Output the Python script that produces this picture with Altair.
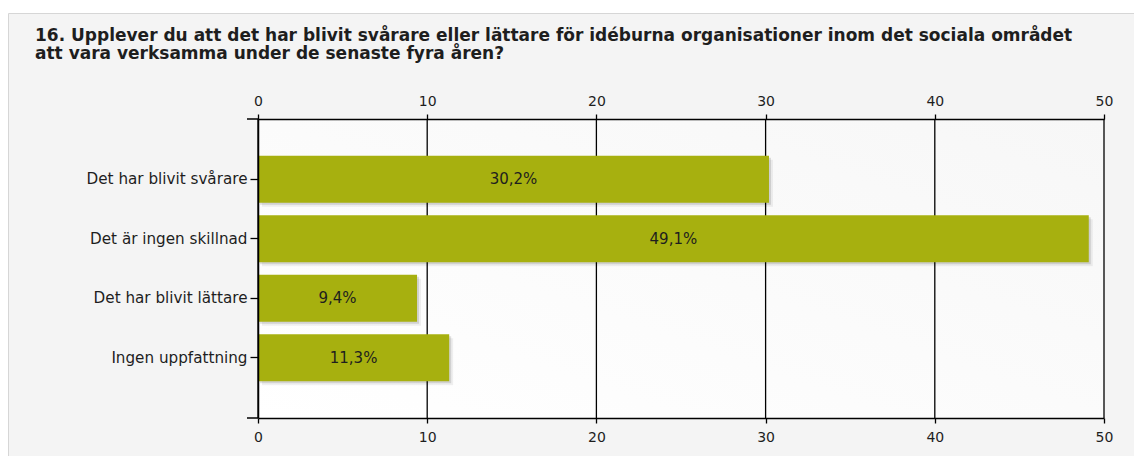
import altair as alt
import pandas as pd

categories = ["Det har blivit svårare", "Det är ingen skillnad", "Det har blivit lättare", "Ingen uppfattning"]
values = [30.2, 49.1, 9.4, 11.3]
labels = ["30,2%", "49,1%", "9,4%", "11,3%"]
ticks = [0, 10, 20, 30, 40, 50]
title_lines = [
    "16. Upplever du att det har blivit svårare eller lättare för idéburna organisationer inom det sociala området",
    "att vara verksamma under de senaste fyra åren?",
]

df = pd.DataFrame({"cat": categories, "val": values, "lab": labels})
tick_df = pd.DataFrame({"t": ticks})

W, H = 846, 299
FONT = "DejaVu Sans"
INK = "#1e1e1e"

xscale = alt.Scale(domain=[0, 50], nice=False, zero=True)
yscale = alt.Scale(domain=categories, paddingInner=0.21, paddingOuter=0.62)

one = alt.Data(values=[{}])

panel = alt.Chart(one).mark_rect(fill="#f4f4f4", stroke="#d6d6d6", strokeWidth=1).encode(
    x=alt.value(-249.5), x2=alt.value(W + 40), y=alt.value(-105.5), y2=alt.value(H + 60)
)
plotbg = alt.Chart(one).mark_rect(
    fill=alt.Gradient(gradient="linear", x1=0, y1=1, x2=1, y2=0,
                      stops=[alt.GradientStop(color="#ffffff", offset=0),
                             alt.GradientStop(color="#f7f7f7", offset=1)])
).encode(x=alt.value(0), x2=alt.value(W), y=alt.value(0), y2=alt.value(H))

title1 = alt.Chart(one).mark_text(
    font=FONT, fontSize=17, fontWeight="bold", color=INK, align="left", baseline="alphabetic"
).encode(x=alt.value(-223), y=alt.value(-78), text=alt.value(title_lines[0]))
title2 = alt.Chart(one).mark_text(
    font=FONT, fontSize=17, fontWeight="bold", color=INK, align="left", baseline="alphabetic"
).encode(x=alt.value(-223), y=alt.value(-60), text=alt.value(title_lines[1]))

axis_common = dict(
    values=ticks, grid=False, zindex=1,
    domainColor="#000000", domainWidth=1.5, tickColor="#000000", tickSize=5, tickWidth=1.3,
    labelFont=FONT, labelFontSize=14, labelColor=INK, title=None,
    labelFlush=False,
)
xaxis_bottom = alt.Axis(orient="bottom", labelPadding=7, **axis_common)
xaxis_top = alt.Axis(orient="top", labelPadding=6, **axis_common)
yaxis = alt.Axis(orient="left", title=None, zindex=1, domainColor="#000000", domainWidth=1.5,
                 tickColor="#000000", tickSize=8, tickWidth=1.3,
                 labelFont=FONT, labelFontSize=15.2, labelColor=INK,
                 labelPadding=3, labelLimit=300)

base = alt.Chart(df)
X = alt.X("val:Q", scale=xscale, axis=xaxis_bottom)
Y = alt.Y("cat:N", scale=yscale, sort=categories, axis=yaxis)

grid = alt.Chart(tick_df).mark_rule(color="#000000", strokeWidth=1.3).encode(
    x=alt.X("t:Q", scale=xscale, axis=xaxis_bottom),
    y=alt.value(0), y2=alt.value(H),
)
shadow2 = base.mark_bar(color="#000000", opacity=0.06, xOffset=4, yOffset=4).encode(x=X, y=Y)
shadow1 = base.mark_bar(color="#000000", opacity=0.12, xOffset=2, yOffset=2).encode(x=X, y=Y)
bars = base.mark_bar(color="#a7b00f").encode(x=X, y=Y)
text = base.transform_calculate(mid="datum.val / 2").mark_text(
    font=FONT, fontSize=15, color=INK, align="center", baseline="middle"
).encode(
    x=alt.X("mid:Q", scale=xscale, axis=xaxis_bottom),
    y=Y,
    text="lab:N",
)

ext_top = alt.Chart(one).mark_rule(color="#000000", strokeWidth=1.5).encode(
    x=alt.value(-11), x2=alt.value(0), y=alt.value(0)
)
ext_bot = alt.Chart(one).mark_rule(color="#000000", strokeWidth=1.5).encode(
    x=alt.value(-11), x2=alt.value(0), y=alt.value(H)
)

main = alt.layer(grid, shadow2, shadow1, bars, text)

top_axis = base.mark_bar(opacity=0).encode(
    x=alt.X("val:Q", scale=xscale, axis=xaxis_top),
    y=Y,
)

chart = alt.layer(
    panel, plotbg, title1, title2, main, top_axis, ext_top, ext_bot
).resolve_scale(x="independent").properties(
    width=W, height=H,
    autosize=alt.AutoSizeParams(type="none"),
    padding={"left": 250, "top": 111, "right": 30, "bottom": 38},
).configure(background="#ffffff").configure_view(stroke=None)

chart.save("out.html", embed_options={"renderer": "svg", "actions": False})
